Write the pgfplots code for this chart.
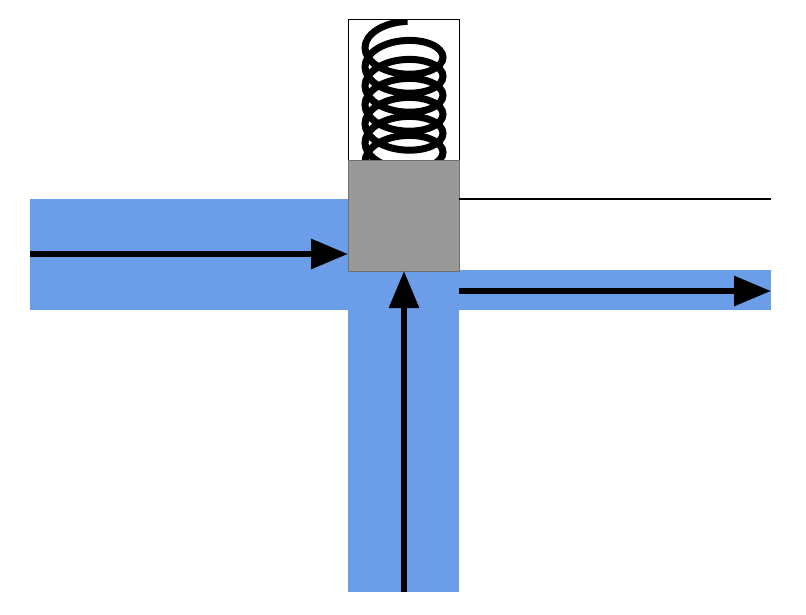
\documentclass[border=0pt]{standalone}
\usepackage{pgfplots}
\pgfplotsset{compat=1.18}
\usetikzlibrary{arrows.meta,decorations.pathmorphing}
\definecolor{pipe}{RGB}{108,157,232}
\definecolor{blockgray}{RGB}{153,153,153}
\definecolor{blockedge}{RGB}{110,110,110}
\begin{document}
\begin{tikzpicture}
\begin{axis}[
  x=1pt, y=1pt,
  xmin=0, xmax=806, ymin=0, ymax=615,
  y dir=reverse,
  hide axis,
  clip=false,
]
% background
\addplot[draw=none, fill=white] coordinates {(0,0) (806,0) (806,615) (0,615)} -- cycle;
% pipes
\addplot[draw=none, fill=pipe] coordinates {(30,199) (348,199) (348,310) (30,310)} -- cycle;
\addplot[draw=none, fill=pipe] coordinates {(348,270) (459,270) (459,592) (348,592)} -- cycle;
\addplot[draw=none, fill=pipe] coordinates {(459,270) (771,270) (771,310) (459,310)} -- cycle;
% spring box
\addplot[draw=black, line width=1pt, fill=white] coordinates {(348,20) (459,20) (459,161) (348,161)} -- cycle;
% spring, clipped to its box
\begin{scope}
\clip (axis cs:348.5,20.5) rectangle (axis cs:458.5,161);
\addplot[black, line width=7pt, decorate, decoration={coil, aspect=0.55, segment length=19pt, amplitude=39pt}] coordinates {(404,188) (404,17)};
\end{scope}
% grey block
\addplot[draw=blockedge, line width=1pt, fill=blockgray] coordinates {(348,161) (459,161) (459,271) (348,271)} -- cycle;
% thin wall line
\addplot[black, line width=1.3pt] coordinates {(459,199) (771,199)};
% flow arrows
\addplot[black, line width=6pt, -{Triangle[length=37pt,width=29pt]}] coordinates {(30,254) (348,254)};
\addplot[black, line width=6pt, -{Triangle[length=37pt,width=29pt]}] coordinates {(404,592) (404,271)};
\addplot[black, line width=6pt, -{Triangle[length=37pt,width=29pt]}] coordinates {(459,291) (771,291)};
\end{axis}
\end{tikzpicture}
\end{document}
